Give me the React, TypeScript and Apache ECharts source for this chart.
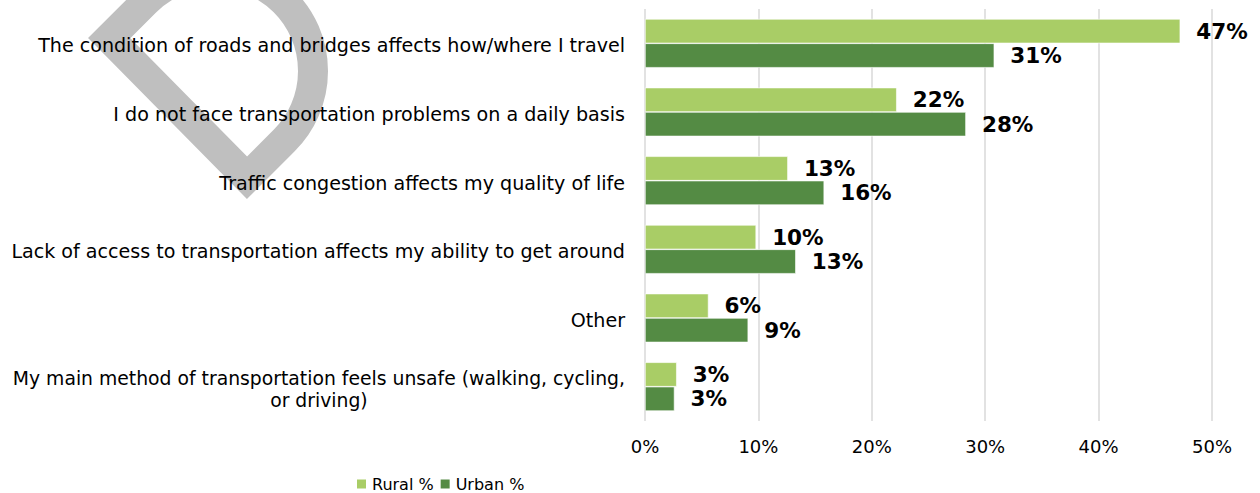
import React, { useEffect, useRef } from "react";
import * as echarts from "echarts";

const categories = [
  "The condition of roads and bridges affects how/where I travel",
  "I do not face transportation problems on a daily basis",
  "Traffic congestion affects my quality of life",
  "Lack of access to transportation affects my ability to get around",
  "Other",
  "My main method of transportation feels unsafe (walking, cycling,\nor driving)",
];
const seriesNames = ["Rural %", "Urban %"];
const rural = [47.2, 22.2, 12.6, 9.8, 5.6, 2.8];
const urban = [30.8, 28.3, 15.8, 13.3, 9.1, 2.6];
const xMin = 0;
const xMax = 50;
const xInterval = 10;

const FONT = "'DejaVu Sans', sans-serif";
const WATERMARK_D =
  "M109.2 38 L247 177.8 L284.3 140.3 A98 98 0 0 0 284.3 1.7 A98 98 0 0 0 145.7 1.7 Z";

let registered = false;

export default function App() {
  const ref = useRef<HTMLDivElement>(null);
  useEffect(() => {
    if (!ref.current) return;
    if (!registered) {
      echarts.graphic.registerShape("dmark", echarts.graphic.extendPath(WATERMARK_D, {}));
      registered = true;
    }
    const chart = echarts.init(ref.current, null, { renderer: "svg" });
    const labelStyle = {
      show: true,
      position: "right",
      distance: 16,
      fontFamily: FONT,
      fontWeight: "bold",
      fontSize: 21.5,
      color: "#000",
      formatter: (p: any) => Math.round(p.value) + "%",
    };
    chart.setOption({
      animation: false,
      graphic: {
        elements: [
          {
            type: "dmark",
            x: 0,
            y: 0,
            z: -10,
            silent: true,
            style: { fill: null, stroke: "#bfbfbf", lineWidth: 30, lineJoin: "miter" },
          },
        ],
      },
      legend: {
        left: 350,
        top: 471,
        itemWidth: 11,
        itemHeight: 11,
        itemGap: 5,
        icon: "rect",
        textStyle: { fontFamily: FONT, fontSize: 16, color: "#000" },
        data: seriesNames,
      },
      grid: {
        left: 645,
        right: 48,
        top: 9,
        bottom: 72,
        containLabel: false,
        outerBoundsMode: "none",
      },
      xAxis: {
        type: "value",
        min: xMin,
        max: xMax,
        interval: xInterval,
        axisLine: { show: false },
        axisTick: { show: false },
        splitLine: { show: true, lineStyle: { color: "#d9d9d9", width: 1.5 } },
        axisLabel: {
          formatter: "{value}%",
          fontFamily: FONT,
          fontSize: 18,
          color: "#000",
          margin: 16,
        },
      },
      yAxis: {
        type: "category",
        inverse: true,
        data: categories,
        axisLine: { show: false },
        axisTick: { show: false },
        axisLabel: {
          margin: 20,
          padding: [5, 0, 0, 0],
          fontFamily: FONT,
          fontSize: 19.1,
          color: "#000",
          formatter: (v: string) =>
            v.indexOf("\n") >= 0
              ? v.split("\n").map((l) => `{c|${l}}`).join("\n")
              : v,
          rich: {
            c: { align: "center", fontFamily: FONT, fontSize: 18.8, color: "#000", lineHeight: 22 },
          },
        },
      },
      series: [
        {
          name: seriesNames[0],
          type: "bar",
          data: rural,
          barGap: "0%",
          barCategoryGap: "29%",
          itemStyle: { color: "#a9cd66", borderColor: "#ffffff", borderWidth: 0.6 },
          label: labelStyle,
        },
        {
          name: seriesNames[1],
          type: "bar",
          data: urban,
          barGap: "0%",
          barCategoryGap: "29%",
          itemStyle: { color: "#548b44", borderColor: "#ffffff", borderWidth: 0.6 },
          label: labelStyle,
        },
      ],
    });
    return () => chart.dispose();
  }, []);
  return (
    <div
      ref={ref}
      style={{ position: "fixed", left: 0, top: 0, width: 1260, height: 493, background: "#fff" }}
    />
  );
}
